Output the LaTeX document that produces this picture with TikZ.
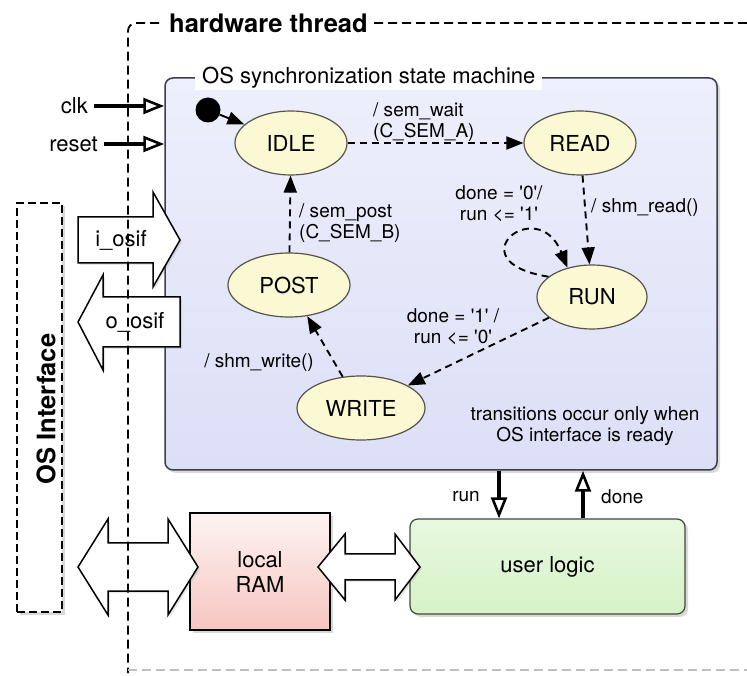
\documentclass[tikz,border=0pt]{standalone}
\usepackage{fontspec}
\setmainfont{TeX Gyre Heros}
\usepackage{tikz}
\usetikzlibrary{arrows.meta,shapes.geometric,shadows}

\definecolor{smtop}{HTML}{EEEFFC}
\definecolor{smbot}{HTML}{DCDFF6}
\definecolor{smline}{HTML}{3C3E4C}
\definecolor{statefill}{HTML}{FBF9D3}
\definecolor{stateline}{HTML}{55554C}
\definecolor{ramtop}{HTML}{FDF3F1}
\definecolor{rambot}{HTML}{F7C6C1}
\definecolor{ultop}{HTML}{E8F8DF}
\definecolor{ulbot}{HTML}{D6F2C6}
\definecolor{ulline}{HTML}{3E4A3C}

\newcommand{\bigtxt}{\fontsize{22}{25}\selectfont}
\newcommand{\labtxt}{\fontsize{19}{21}\selectfont}
\newcommand{\headtxt}{\fontsize{25.5}{28}\selectfont\bfseries}
\newcommand{\q}{\textquotesingle}

\begin{document}
\begin{tikzpicture}[x=1pt,y=1pt,
    shad/.style={drop shadow={shadow xshift=3pt,shadow yshift=-3pt,opacity=0.3}},
    state/.style={ellipse, draw=stateline, line width=1.2pt, fill=statefill,
      minimum height=64pt, inner sep=0pt, font=\bigtxt},
    trans/.style={line width=1.9pt, dash pattern=on 7pt off 5pt,
      -{Triangle[length=17pt,width=13pt]}},
    initarr/.style={line width=1.9pt, -{Triangle[length=17pt,width=13pt]}},
    sig/.style={line width=3.2pt, -{Triangle[open,length=21pt,width=16pt,line width=2.6pt]}},
    lab/.style={font=\labtxt, align=center, inner sep=1pt},
    big/.style={font=\bigtxt, align=center, inner sep=1pt},
    blockarr/.style={draw=black, line width=1.5pt, fill=white, line join=miter,
      drop shadow={shadow xshift=2pt,shadow yshift=-2pt,opacity=0.2}},
    hw/.style={line width=1.8pt, dash pattern=on 9pt off 5pt}]
  \useasboundingbox (0,0) rectangle (747,675);

  \node[shad, draw=black, line width=1.5pt, dash pattern=on 8pt off 4pt, fill=white,
    minimum width=45pt, minimum height=409pt] (osbox) at (39.5,267.5) {};
  \node[rotate=90, font=\headtxt] (ostxt) at (46,266) {OS Interface};

  \node[shad, draw=smline, line width=1.5pt, rounded corners=8pt, top color=smtop,
    bottom color=smbot, minimum width=552pt, minimum height=392pt] (sm) at (441,401) {};
  \node[big, anchor=west, fill=white, inner xsep=7pt] (smt) at (195,597)
    {OS synchronization state machine};

  \node[circle, fill=black, minimum size=25pt, inner sep=0pt] (init) at (208,565) {};
  \node[state, minimum width=112pt] (idle) at (291,532) {IDLE};
  \node[state, minimum width=112pt] (read) at (580,532) {READ};
  \node[state, minimum width=110pt] (run) at (592,378) {RUN};
  \node[state, minimum width=122pt] (post) at (289,390) {POST};
  \node[state, minimum width=128pt] (write) at (361,267) {WRITE};

  \draw[initarr] (init) -- (idle);
  \draw[trans] (idle) -- (read);
  \draw[trans] (read) -- (run);
  \draw[trans] (run.155) .. controls +(-95,15) and +(-30,75) .. (run.130);
  \draw[trans] (run) -- (write);
  \draw[trans] (write) -- (post);
  \draw[trans] (post) -- (idle);

  \node[lab, anchor=west, align=left] (lwait) at (372,553) {/ sem\_wait\\(C\_SEM\_A)};
  \node[lab, anchor=west, align=left] (lpost) at (298,452) {/ sem\_post\\(C\_SEM\_B)};
  \node[lab, anchor=west] (lread) at (590,467) {/ shm\_read()};
  \node[lab] (lloop) at (499,471) {done = \q0\q/\\run <= \q1\q};
  \node[lab] (ldone) at (453,348) {done = \q1\q{} /\\run <= \q0\q};
  \node[lab] (lwrite) at (259,312) {/ shm\_write()};
  \node[lab] (lnote) at (585,249) {transitions occur only when\\OS interface is ready};

  \node[shad, draw=black, line width=1.2pt, top color=ramtop, bottom color=rambot,
    minimum width=140pt, minimum height=117pt, font=\bigtxt, align=center] (ram) at (260,103.5) {local\\RAM};
  \node[shad, draw=ulline, line width=1.2pt, rounded corners=8pt, top color=ultop,
    bottom color=ulbot, minimum width=275pt, minimum height=95pt, font=\bigtxt] (ul) at (547.5,108.5) {user logic};

  \draw[blockarr] (78,458) -- (153,458) -- (153,483) -- (180,435) -- (153,388)
    -- (153,412) -- (78,412) -- cycle;
  \node[big] (iosif) at (121,435) {i\_osif};
  \draw[blockarr] (180,378) -- (103,378) -- (103,400) -- (78,353) -- (103,305)
    -- (103,328) -- (180,328) -- cycle;
  \node[big] (oosif) at (135,353) {o\_osif};
  \draw[blockarr] (78,108) -- (108,156) -- (108,132) -- (168,132) -- (168,156)
    -- (198,108) -- (168,60) -- (168,84) -- (108,84) -- (108,60) -- cycle;
  \draw[blockarr] (318,108) -- (345,141) -- (345,121) -- (395,121) -- (395,141)
    -- (420,108) -- (395,75) -- (395,95) -- (345,95) -- (345,75) -- cycle;

  \draw[hw, rounded corners=8pt] (747,652) -- (128,652) -- (128,2);
  \draw[hw, black!25] (128,5) -- (747,5);
  \node[font=\headtxt, anchor=west, fill=white, inner xsep=6pt] (hwt) at (163,652) {hardware thread};

  \node[big, anchor=east, inner xsep=6pt] (clk) at (94,569) {clk};
  \node[big, anchor=east, inner xsep=6pt] (reset) at (104,531) {reset};
  \draw[sig] (clk.east) -- (clk -| sm.west);
  \draw[sig] (reset.east) -- (reset -| sm.west);

  \coordinate (runx) at (499,0);
  \coordinate (donex) at (583,0);
  \draw[sig] (runx |- sm.south) -- (runx |- ul.north);
  \draw[sig] (donex |- ul.north) -- (donex |- sm.south);
  \node[lab, anchor=east] (lrun) at (481,178) {run};
  \node[lab, anchor=west] (ldn) at (600,178) {done};
\end{tikzpicture}
\end{document}
